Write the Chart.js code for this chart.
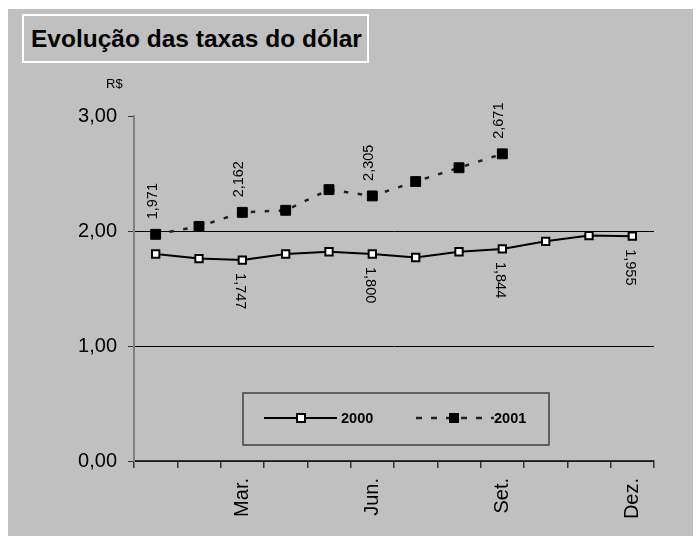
<!DOCTYPE html>
<html>
<head>
<meta charset="utf-8">
<script src="https://cdn.jsdelivr.net/npm/chart.js@4/dist/chart.umd.min.js"></script>
<style>
  body { margin: 0; background: #fff; font-family: "Liberation Sans", Arial, sans-serif; }
  #frame { position: absolute; left: 8px; top: 9px; width: 685px; height: 527px; background: #c0c0c0; }
  #chart { position: absolute; left: 0; top: 0; }
  #title {
    position: absolute; left: 22px; top: 14px; width: 343px; height: 45px;
    border: 2px solid #fff; background: #c0c0c0;
    font-weight: bold; font-size: 24.5px; line-height: 45px; text-indent: 7px; color: #000;
  }
  #unit { position: absolute; left: 106px; top: 76px; font-size: 13px; color: #000; }
</style>
</head>
<body>
<div id="frame"></div>
<canvas id="chart" width="696" height="536"></canvas>
<div id="title">Evolução das taxas do dólar</div>
<div id="unit">R$</div>

<script>
/* ================= DATA ================= */
const months = ["Jan.", "Fev.", "Mar.", "Abr.", "Mai.", "Jun.", "Jul.", "Ago.", "Set.", "Out.", "Nov.", "Dez."];
const shownMonths = ["Mar.", "Jun.", "Set.", "Dez."];
const rate2000 = [1.80, 1.76, 1.747, 1.80, 1.82, 1.800, 1.77, 1.82, 1.844, 1.91, 1.96, 1.955];
const rate2001 = [1.971, 2.04, 2.162, 2.18, 2.36, 2.305, 2.43, 2.55, 2.671, null, null, null];
// indexes that carry a value label, per series
const labeled2000 = [2, 5, 8, 11];
const labeled2001 = [0, 2, 5, 8];
const yTicks = [0, 1, 2, 3];

const fmt = (v, d) => v.toFixed(d).replace(".", ",");

/* ================= VALUE LABELS ================= */
const valueLabels = {
    id: "valueLabels",
    afterDatasetsDraw(chart) {
        const ctx = chart.ctx;
        ctx.save();
        ctx.font = "14.5px 'Liberation Sans', Arial, sans-serif";
        ctx.fillStyle = "#000";
        ctx.textBaseline = "middle";
        ctx.textAlign = "left";
        chart.data.datasets.forEach((ds, di) => {
            const meta = chart.getDatasetMeta(di);
            const idx = di === 0 ? labeled2000 : labeled2001;
            idx.forEach(i => {
                const v = ds.data[i];
                if (v == null) return;
                const p = meta.data[i];
                ctx.save();
                if (di === 1) {
                    // above, reading bottom to top
                    ctx.translate(p.x - 3, p.y - 15);
                    ctx.rotate(-Math.PI / 2);
                } else {
                    // below, reading top to bottom
                    ctx.translate(p.x - 2, p.y + 13);
                    ctx.rotate(Math.PI / 2);
                }
                ctx.fillText(fmt(v, 3), 0, 0);
                ctx.restore();
            });
        });
        ctx.restore();
    }
};

/* ================= LEGEND BOX ================= */
const legendBox = {
    id: "legendBox",
    afterDraw(chart) {
        const ctx = chart.ctx;
        const y = 418;
        ctx.save();
        ctx.fillStyle = "#c0c0c0";
        ctx.strokeStyle = "#404040";
        ctx.lineWidth = 1.5;
        ctx.fillRect(243, 393, 306, 52);
        ctx.strokeRect(243, 393, 306, 52);

        // 2000
        ctx.strokeStyle = "#000";
        ctx.lineWidth = 2;
        ctx.beginPath(); ctx.moveTo(264, y); ctx.lineTo(337, y); ctx.stroke();
        ctx.fillStyle = "#fff";
        ctx.fillRect(297, y - 4, 8, 8);
        ctx.strokeRect(297, y - 4, 8, 8);

        // 2001
        ctx.strokeStyle = "#222";
        ctx.lineWidth = 2.5;
        ctx.setLineDash([6, 9]);
        ctx.beginPath(); ctx.moveTo(416, y); ctx.lineTo(494, y); ctx.stroke();
        ctx.setLineDash([]);
        ctx.fillStyle = "#000";
        ctx.fillRect(449, y - 5, 10, 10);

        ctx.font = "bold 14.5px 'Liberation Sans', Arial, sans-serif";
        ctx.textBaseline = "middle";
        ctx.textAlign = "left";
        ctx.fillText(chart.data.datasets[0].label, 341, y + 1);
        ctx.fillText(chart.data.datasets[1].label, 494, y + 1);
        ctx.restore();
    }
};

/* ================= CHART ================= */
new Chart(document.getElementById("chart"), {
    type: "line",
    data: {
        labels: months,
        datasets: [
            {
                label: "2000",
                data: rate2000,
                borderColor: "#000",
                borderWidth: 2,
                tension: 0,
                pointStyle: "rect",
                pointRadius: 5.2,
                pointBackgroundColor: "#fff",
                pointBorderColor: "#000",
                pointBorderWidth: 2
            },
            {
                label: "2001",
                data: rate2001,
                borderColor: "#222",
                borderWidth: 2.5,
                borderDash: [4.5, 9.5],
                tension: 0,
                pointStyle: "rect",
                pointRadius: 7,
                pointBackgroundColor: "#000",
                pointBorderColor: "#000",
                pointBorderWidth: 1
            }
        ]
    },
    options: {
        responsive: false,
        animation: false,
        layout: { padding: { left: 0, right: 42, top: 116, bottom: 0 } },
        plugins: {
            legend: { display: false },
            tooltip: { enabled: false }
        },
        scales: {
            x: {
                offset: true,
                afterFit: s => { s.height = 75; },
                grid: {
                    offset: true,
                    drawOnChartArea: false,
                    tickLength: 7,
                    tickColor: "#333",
                    lineWidth: 1.5
                },
                border: { color: "#333", width: 1.5 },
                ticks: {
                    autoSkip: false,
                    minRotation: 90,
                    maxRotation: 90,
                    padding: 10,
                    color: "#000",
                    font: { family: "'Liberation Sans', Arial, sans-serif", size: 20 },
                    callback: function (v) {
                        const l = this.getLabelForValue(v);
                        return shownMonths.includes(l) ? l : "";
                    }
                }
            },
            y: {
                min: 0,
                max: 3,
                afterFit: s => { s.width = 134; },
                afterBuildTicks: s => { s.ticks = yTicks.map(v => ({ value: v })); },
                grid: {
                    color: c => (c.tick && c.tick.value === 3 ? "rgba(0,0,0,0)" : "#000"),
                    tickColor: "#333",
                    tickLength: 6,
                    lineWidth: 1
                },
                border: { color: "#808080", width: 2 },
                ticks: {
                    padding: 11,
                    color: "#000",
                    font: { family: "'Liberation Sans', Arial, sans-serif", size: 20 },
                    callback: v => fmt(v, 2)
                }
            }
        }
    },
    plugins: [valueLabels, legendBox]
});
</script>
</body>
</html>
